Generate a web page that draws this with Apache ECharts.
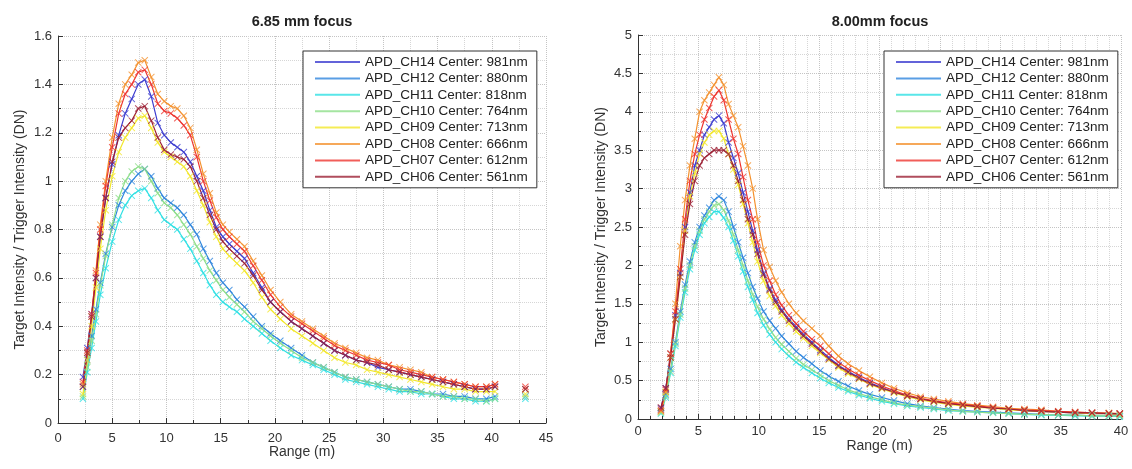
<!DOCTYPE html>
<html>
<head>
<meta charset="utf-8">
<title>APD channels - target intensity vs range</title>
<script src="https://cdn.jsdelivr.net/npm/echarts@6/dist/echarts.min.js"></script>
<style>
  html, body { margin: 0; padding: 0; background: #fff; }
  #chart { width: 1132px; height: 469px; }
</style>
</head>
<body>
<div id="chart"></div>
<script>
// legend names, same for both panels
const channelNames = [
  'APD_CH14 Center: 981nm',
  'APD_CH12 Center: 880nm',
  'APD_CH11 Center: 818nm',
  'APD_CH10 Center: 764nm',
  'APD_CH09 Center: 713nm',
  'APD_CH08 Center: 666nm',
  'APD_CH07 Center: 612nm',
  'APD_CH06 Center: 561nm'
]
const panelTitles = ['6.85 mm focus', '8.00mm focus']

// ---- left panel: 6.85 mm focus (null = gap in the line) ----
const rangeLeft = [2.3, 2.7, 3.1, 3.5, 3.9, 4.4, 5, 5.6, 6.2, 6.8,
  7.4, 8, 8.6, 9.2, 9.8, 10.4, 11, 11.6, 12.2, 12.8,
  13.4, 14, 14.6, 15.2, 15.8, 16.5, 17.2, 18, 18.8, 19.6,
  20.5, 21.5, 22.5, 23.5, 24.5, 25.5, 26.5, 27.5, 28.5, 29.5,
  30.5, 31.5, 32.5, 33.5, 34.5, 35.5, 36.5, 37.5, 38.5, 39.5,
  40.3, 41.7, 43.1]
const leftCH14 = [0.19, 0.31, 0.45, 0.60, 0.77, 0.93, 1.07, 1.19, 1.28, 1.34,
  1.40, 1.42, 1.35, 1.24, 1.19, 1.16, 1.14, 1.12, 1.08, 1.02,
  0.96, 0.88, 0.81, 0.77, 0.74, 0.71, 0.68, 0.62, 0.56, 0.50,
  0.46, 0.42, 0.39, 0.36, 0.33, 0.30, 0.28, 0.26, 0.25, 0.23,
  0.22, 0.21, 0.20, 0.19, 0.18, 0.17, 0.16, 0.15, 0.14, 0.14,
  0.15, null, 0.14]
const leftCH12 = [0.15, 0.26, 0.36, 0.47, 0.58, 0.70, 0.81, 0.90, 0.96, 1.00,
  1.03, 1.05, 1.02, 0.97, 0.93, 0.91, 0.89, 0.86, 0.82, 0.78,
  0.72, 0.67, 0.62, 0.58, 0.55, 0.51, 0.48, 0.44, 0.40, 0.37,
  0.34, 0.31, 0.28, 0.25, 0.23, 0.21, 0.19, 0.18, 0.17, 0.16,
  0.15, 0.14, 0.14, 0.13, 0.12, 0.12, 0.11, 0.11, 0.10, 0.10,
  0.11, null, 0.11]
const leftCH11 = [0.10, 0.21, 0.31, 0.42, 0.53, 0.64, 0.75, 0.84, 0.90, 0.94,
  0.96, 0.97, 0.93, 0.88, 0.84, 0.82, 0.80, 0.76, 0.72, 0.67,
  0.62, 0.57, 0.53, 0.50, 0.48, 0.46, 0.43, 0.40, 0.37, 0.34,
  0.31, 0.28, 0.26, 0.24, 0.22, 0.20, 0.18, 0.17, 0.16, 0.15,
  0.14, 0.13, 0.13, 0.12, 0.12, 0.11, 0.10, 0.10, 0.09, 0.09,
  0.10, null, 0.10]
const leftCH10 = [0.11, 0.23, 0.34, 0.45, 0.57, 0.69, 0.82, 0.93, 1.00, 1.04,
  1.06, 1.05, 1.00, 0.95, 0.91, 0.89, 0.86, 0.82, 0.78, 0.73,
  0.68, 0.63, 0.59, 0.55, 0.52, 0.49, 0.46, 0.42, 0.39, 0.36,
  0.33, 0.30, 0.27, 0.25, 0.23, 0.21, 0.19, 0.18, 0.17, 0.16,
  0.15, 0.14, 0.13, 0.13, 0.12, 0.11, 0.11, 0.10, 0.10, 0.09,
  0.10, null, 0.11]
const leftCH09 = [0.12, 0.26, 0.40, 0.56, 0.72, 0.88, 1.02, 1.12, 1.18, 1.22,
  1.26, 1.27, 1.22, 1.16, 1.12, 1.10, 1.08, 1.06, 1.02, 0.96,
  0.90, 0.83, 0.77, 0.72, 0.69, 0.66, 0.63, 0.58, 0.52, 0.47,
  0.43, 0.39, 0.36, 0.33, 0.30, 0.27, 0.25, 0.24, 0.22, 0.21,
  0.20, 0.19, 0.18, 0.17, 0.16, 0.15, 0.14, 0.14, 0.13, 0.13,
  0.13, null, 0.12]
const leftCH08 = [0.16, 0.29, 0.44, 0.63, 0.82, 1.00, 1.18, 1.32, 1.40, 1.44,
  1.49, 1.50, 1.43, 1.36, 1.33, 1.31, 1.30, 1.27, 1.22, 1.13,
  1.03, 0.95, 0.87, 0.82, 0.79, 0.76, 0.73, 0.67, 0.61, 0.55,
  0.50, 0.45, 0.42, 0.39, 0.36, 0.33, 0.31, 0.29, 0.27, 0.26,
  0.24, 0.23, 0.22, 0.21, 0.19, 0.18, 0.17, 0.16, 0.15, 0.15,
  0.16, null, 0.14]
const leftCH07 = [0.17, 0.30, 0.45, 0.62, 0.80, 0.98, 1.14, 1.28, 1.36, 1.40,
  1.45, 1.46, 1.40, 1.32, 1.29, 1.28, 1.26, 1.23, 1.19, 1.10,
  1.00, 0.92, 0.85, 0.80, 0.77, 0.74, 0.71, 0.65, 0.59, 0.53,
  0.48, 0.44, 0.41, 0.38, 0.35, 0.32, 0.30, 0.28, 0.26, 0.25,
  0.24, 0.22, 0.21, 0.20, 0.19, 0.18, 0.17, 0.16, 0.15, 0.15,
  0.16, null, 0.15]
const leftCH06 = [0.15, 0.29, 0.44, 0.60, 0.77, 0.93, 1.08, 1.18, 1.22, 1.25,
  1.30, 1.31, 1.25, 1.18, 1.13, 1.11, 1.10, 1.09, 1.06, 1.00,
  0.93, 0.86, 0.80, 0.75, 0.72, 0.69, 0.66, 0.61, 0.55, 0.50,
  0.46, 0.42, 0.39, 0.36, 0.33, 0.30, 0.28, 0.26, 0.25, 0.24,
  0.22, 0.21, 0.20, 0.19, 0.18, 0.17, 0.16, 0.15, 0.14, 0.14,
  0.15, null, 0.14]

// ---- right panel: 8.00 mm focus ----
const rangeRight = [1.9, 2.3, 2.7, 3.1, 3.5, 3.9, 4.3, 4.7, 5.1, 5.5,
  5.9, 6.3, 6.7, 7.1, 7.5, 7.9, 8.3, 8.7, 9.1, 9.5,
  9.9, 10.4, 10.9, 11.4, 11.9, 12.5, 13.1, 13.7, 14.4, 15.1,
  15.8, 16.6, 17.4, 18.3, 19.2, 20.2, 21.2, 22.3, 23.4, 24.5,
  25.7, 26.9, 28.1, 29.4, 30.7, 32, 33.4, 34.8, 36.2, 37.6,
  39, 39.9]
const rightCH14 = [0.14, 0.40, 0.85, 1.35, 1.90, 2.50, 2.95, 3.30, 3.50, 3.70,
  3.80, 3.90, 3.95, 3.85, 3.60, 3.40, 3.20, 2.95, 2.70, 2.45,
  2.20, 1.90, 1.70, 1.55, 1.42, 1.30, 1.20, 1.10, 1.00, 0.90,
  0.80, 0.70, 0.62, 0.54, 0.47, 0.41, 0.35, 0.30, 0.26, 0.23,
  0.20, 0.18, 0.16, 0.14, 0.13, 0.11, 0.10, 0.09, 0.08, 0.07,
  0.07, 0.06]
const rightCH12 = [0.10, 0.32, 0.65, 1.00, 1.40, 1.75, 2.05, 2.30, 2.50, 2.65,
  2.75, 2.85, 2.90, 2.85, 2.70, 2.50, 2.30, 2.10, 1.90, 1.72,
  1.57, 1.40, 1.28, 1.18, 1.08, 0.98, 0.88, 0.80, 0.72, 0.63,
  0.56, 0.49, 0.43, 0.37, 0.32, 0.28, 0.24, 0.20, 0.17, 0.15,
  0.13, 0.11, 0.10, 0.09, 0.08, 0.07, 0.06, 0.05, 0.05, 0.04,
  0.04, 0.04]
const rightCH11 = [0.07, 0.28, 0.60, 0.95, 1.32, 1.65, 1.95, 2.20, 2.40, 2.55,
  2.63, 2.70, 2.70, 2.62, 2.50, 2.32, 2.12, 1.92, 1.72, 1.55,
  1.38, 1.22, 1.10, 1.00, 0.91, 0.82, 0.74, 0.67, 0.60, 0.53,
  0.47, 0.41, 0.36, 0.31, 0.27, 0.23, 0.20, 0.17, 0.15, 0.13,
  0.11, 0.10, 0.09, 0.08, 0.07, 0.06, 0.05, 0.05, 0.04, 0.04,
  0.04, 0.03]
const rightCH10 = [0.08, 0.30, 0.62, 0.98, 1.36, 1.70, 2.00, 2.25, 2.45, 2.60,
  2.70, 2.78, 2.80, 2.72, 2.58, 2.40, 2.20, 2.00, 1.80, 1.62,
  1.46, 1.30, 1.17, 1.06, 0.97, 0.88, 0.79, 0.71, 0.64, 0.57,
  0.50, 0.44, 0.38, 0.33, 0.29, 0.25, 0.21, 0.18, 0.16, 0.14,
  0.12, 0.10, 0.09, 0.08, 0.07, 0.06, 0.06, 0.05, 0.05, 0.04,
  0.04, 0.04]
const rightCH09 = [0.10, 0.35, 0.80, 1.30, 1.85, 2.45, 2.90, 3.20, 3.45, 3.60,
  3.70, 3.75, 3.75, 3.65, 3.45, 3.25, 3.05, 2.80, 2.55, 2.30,
  2.05, 1.80, 1.60, 1.47, 1.35, 1.24, 1.14, 1.05, 0.95, 0.86,
  0.77, 0.67, 0.59, 0.52, 0.45, 0.39, 0.34, 0.29, 0.25, 0.22,
  0.19, 0.17, 0.15, 0.14, 0.12, 0.11, 0.10, 0.09, 0.08, 0.07,
  0.07, 0.06]
const rightCH08 = [0.10, 0.35, 0.85, 1.50, 2.25, 2.85, 3.30, 3.65, 4.00, 4.15,
  4.25, 4.35, 4.45, 4.35, 4.10, 3.95, 3.80, 3.55, 3.30, 3.00,
  2.60, 2.20, 1.98, 1.80, 1.65, 1.50, 1.38, 1.28, 1.18, 1.08,
  0.95, 0.82, 0.72, 0.63, 0.55, 0.47, 0.40, 0.34, 0.29, 0.26,
  0.23, 0.20, 0.18, 0.16, 0.14, 0.13, 0.12, 0.10, 0.09, 0.08,
  0.08, 0.07]
const rightCH07 = [0.12, 0.38, 0.85, 1.40, 1.95, 2.60, 3.10, 3.45, 3.70, 3.90,
  4.05, 4.20, 4.28, 4.15, 3.90, 3.65, 3.45, 3.15, 2.85, 2.60,
  2.30, 2.00, 1.80, 1.62, 1.48, 1.35, 1.24, 1.14, 1.04, 0.95,
  0.85, 0.74, 0.65, 0.57, 0.50, 0.43, 0.37, 0.31, 0.27, 0.24,
  0.21, 0.19, 0.17, 0.15, 0.13, 0.12, 0.11, 0.10, 0.09, 0.08,
  0.07, 0.07]
const rightCH06 = [0.15, 0.40, 0.80, 1.30, 1.85, 2.40, 2.80, 3.10, 3.30, 3.40,
  3.45, 3.50, 3.50, 3.50, 3.45, 3.30, 3.10, 2.85, 2.60, 2.40,
  2.15, 1.88, 1.68, 1.52, 1.40, 1.28, 1.18, 1.08, 0.98, 0.88,
  0.78, 0.69, 0.61, 0.53, 0.46, 0.40, 0.35, 0.30, 0.26, 0.23,
  0.20, 0.18, 0.16, 0.14, 0.13, 0.11, 0.10, 0.09, 0.08, 0.08,
  0.07, 0.07]

const leftValues = [leftCH14, leftCH12, leftCH11, leftCH10, leftCH09, leftCH08, leftCH07, leftCH06]
const rightValues = [rightCH14, rightCH12, rightCH11, rightCH10, rightCH09, rightCH08, rightCH07, rightCH06]

// jet-like colours, in legend order
const channelColors = ['#3c3ccf', '#2f86dd', '#2fe0e3', '#8edf8a', '#f2e72b', '#f4922f', '#ee3630', '#9c2034']

const fontFamily = '"Liberation Sans", Arial, Helvetica, sans-serif'
// 'x' marker drawn as a filled cross
const crossSymbol = 'path://M1,0L5,4L9,0L10,1L6,5L10,9L9,10L5,6L1,10L0,9L4,5L0,1Z'

const chartDom = document.getElementById('chart')
const chartInstance = echarts.init(chartDom, null, { renderer: 'canvas' })

const makeXAxis = (gridIndex, max, minorSplit, labelMargin, nameGap) => ({
  type: 'value',
  gridIndex: gridIndex,
  min: 0,
  max: max,
  interval: 5,
  name: 'Range (m)',
  nameLocation: 'middle',
  nameGap: nameGap,
  nameMoveOverlap: false,
  nameTextStyle: { color: '#333', fontSize: 14, fontFamily: fontFamily },
  axisLine: { show: true, lineStyle: { color: '#333', width: 1 } },
  axisTick: { show: true, inside: true, length: 5, lineStyle: { color: '#333' } },
  minorTick: { show: true, splitNumber: minorSplit, length: 3, lineStyle: { color: '#333' } },
  axisLabel: { color: '#333', fontSize: 13, margin: labelMargin, fontFamily: fontFamily },
  splitLine: { show: true, lineStyle: { color: '#c4c4c4', type: 'dotted', width: 1 } },
  minorSplitLine: { show: true, lineStyle: { color: '#d6d6d6', type: 'dotted', width: 1 } }
})

const makeYAxis = (gridIndex, max, interval, nameGap) => ({
  type: 'value',
  gridIndex: gridIndex,
  min: 0,
  max: max,
  interval: interval,
  name: 'Target Intensity / Trigger Intensity (DN)',
  nameLocation: 'middle',
  nameRotate: 90,
  nameGap: nameGap,
  nameMoveOverlap: false,
  nameTextStyle: { color: '#333', fontSize: 14, fontFamily: fontFamily },
  axisLine: { show: true, lineStyle: { color: '#333', width: 1 } },
  axisTick: { show: true, inside: true, length: 5, lineStyle: { color: '#333' } },
  minorTick: { show: true, splitNumber: 2, length: 3, lineStyle: { color: '#333' } },
  axisLabel: { color: '#333', fontSize: 13, margin: 6, fontFamily: fontFamily },
  splitLine: { show: true, lineStyle: { color: '#c4c4c4', type: 'dotted', width: 1 } },
  minorSplitLine: { show: true, lineStyle: { color: '#d6d6d6', type: 'dotted', width: 1 } }
})

const makeLegend = (left) => ({
  orient: 'vertical',
  left: left,
  top: 51,
  icon: 'rect',
  itemWidth: 45,
  itemHeight: 2,
  itemGap: 0.4,
  padding: [3, 9, 3, 12],
  borderColor: '#333',
  borderWidth: 1,
  backgroundColor: '#fff',
  selectedMode: false,
  textStyle: { color: '#222', fontSize: 13.5, lineHeight: 16, fontFamily: fontFamily },
  data: channelNames
})

const makeSeries = (gridIndex, xs, valueLists) => valueLists.map((vals, i) => ({
  name: channelNames[i],
  type: 'line',
  xAxisIndex: gridIndex,
  yAxisIndex: gridIndex,
  data: xs.map((x, j) => [x, vals[j] == null ? '-' : vals[j]]),
  connectNulls: false,
  symbol: crossSymbol,
  symbolSize: 7,
  color: channelColors[i],
  lineStyle: { width: 1.2, color: channelColors[i] },
  itemStyle: { color: channelColors[i], opacity: 0.8 },
  emphasis: { disabled: true }
}))

const option = {
  backgroundColor: '#fff',
  animation: false,
  textStyle: { fontFamily: fontFamily },
  title: [
    { text: panelTitles[0], left: 297, top: 9, textAlign: 'center',
      textStyle: { fontSize: 14.5, fontWeight: 'bold', color: '#222', fontFamily: fontFamily } },
    { text: panelTitles[1], left: 875, top: 9, textAlign: 'center',
      textStyle: { fontSize: 14.5, fontWeight: 'bold', color: '#222', fontFamily: fontFamily } }
  ],
  legend: [makeLegend(303), makeLegend(884)],
  grid: [
    { left: 58, top: 36, width: 488, height: 387, containLabel: false },
    { left: 638, top: 35, width: 483, height: 384, containLabel: false }
  ],
  xAxis: [makeXAxis(0, 45, 2, 9, 22), makeXAxis(1, 40, 5, 6, 20)],
  yAxis: [makeYAxis(0, 1.6, 0.2, 31), makeYAxis(1, 5, 0.5, 30)],
  series: [].concat(
    makeSeries(0, rangeLeft, leftValues),
    makeSeries(1, rangeRight, rightValues)
  )
}

chartInstance.setOption(option)
</script>
</body>
</html>
